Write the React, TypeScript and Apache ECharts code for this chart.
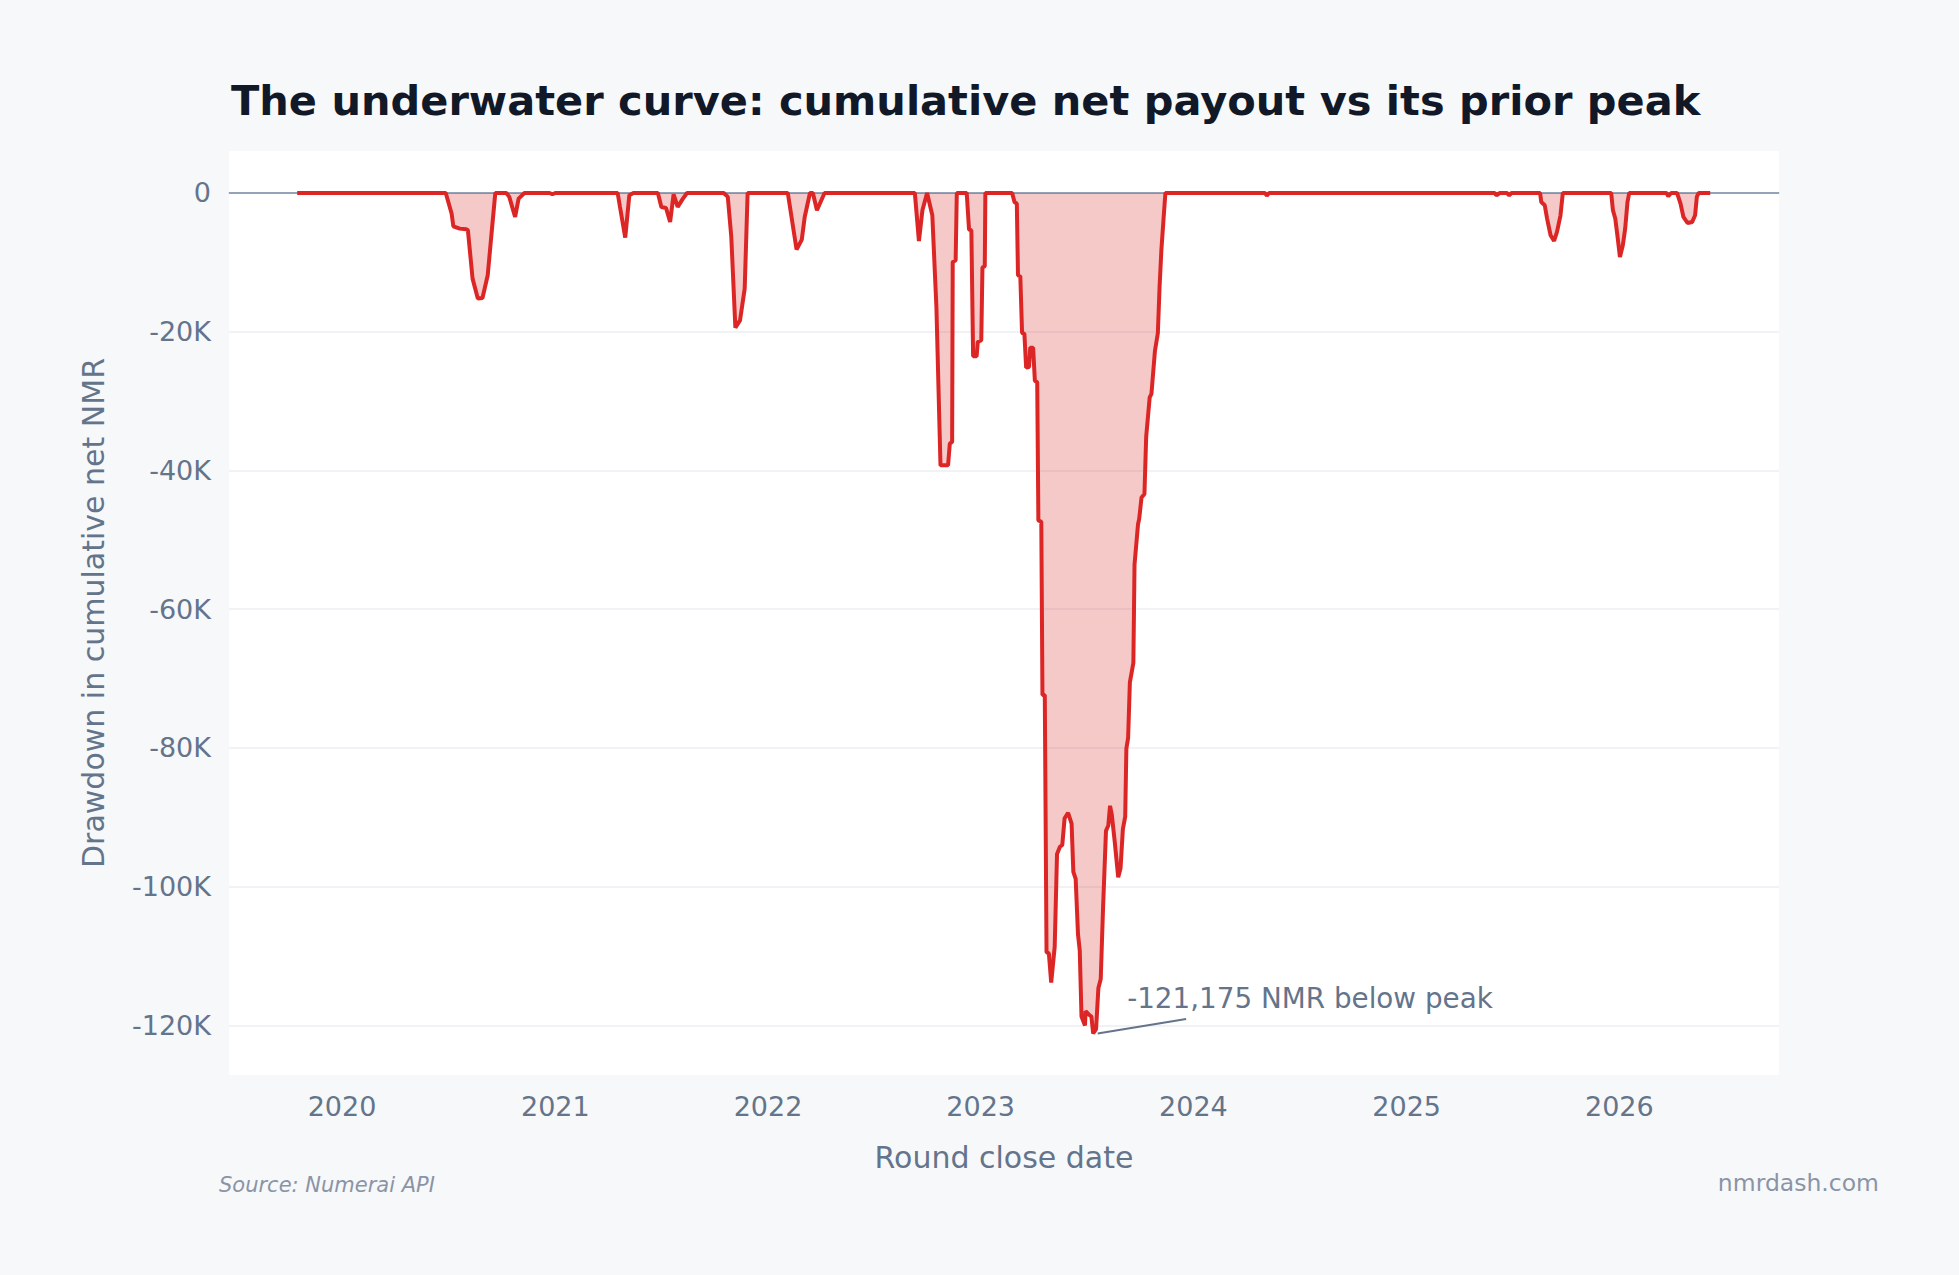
import React, { useEffect, useRef } from "react";
import * as echarts from "echarts";

// Round close dates (vertices of the underwater curve) and the drawdown of
// cumulative net payout below its running peak, in NMR, at each of them.
const roundDates = [
  "2019-10-16", "2020-06-27", "2020-07-07", "2020-07-10", "2020-07-21", "2020-08-01", "2020-08-04", "2020-08-12", "2020-08-21", "2020-08-29", "2020-09-07", "2020-09-13", "2020-09-20",
  "2020-10-09", "2020-10-14", "2020-10-24", "2020-10-30", "2020-11-09",
  "2020-12-22", "2020-12-27", "2021-01-01",
  "2021-04-18", "2021-04-22", "2021-05-01", "2021-05-08", "2021-05-15",
  "2021-06-26", "2021-07-02", "2021-07-10", "2021-07-17", "2021-07-23", "2021-07-30", "2021-08-08", "2021-08-15",
  "2021-10-17", "2021-10-24", "2021-10-30", "2021-11-06", "2021-11-14", "2021-11-22", "2021-11-27",
  "2022-02-04", "2022-02-19", "2022-02-28", "2022-03-05", "2022-03-14", "2022-03-19", "2022-03-26", "2022-04-08",
  "2022-09-10", "2022-09-17", "2022-09-23", "2022-10-01", "2022-10-10", "2022-10-17", "2022-10-24", "2022-11-06", "2022-11-09", "2022-11-13", "2022-11-14", "2022-11-19", "2022-11-21",
  "2022-12-08", "2022-12-12", "2022-12-16", "2022-12-19", "2022-12-25", "2022-12-27", "2023-01-02", "2023-01-04", "2023-01-08", "2023-01-09",
  "2023-02-24", "2023-02-28", "2023-03-04", "2023-03-06", "2023-03-10", "2023-03-13", "2023-03-17", "2023-03-20", "2023-03-25", "2023-03-27",
  "2023-04-01", "2023-04-04", "2023-04-08", "2023-04-10", "2023-04-15", "2023-04-17", "2023-04-21", "2023-04-24", "2023-04-28", "2023-05-02",
  "2023-05-08", "2023-05-12", "2023-05-17", "2023-05-21", "2023-05-25", "2023-05-31", "2023-06-06", "2023-06-09", "2023-06-13", "2023-06-17",
  "2023-06-20", "2023-06-23", "2023-06-29", "2023-06-30", "2023-07-06", "2023-07-10", "2023-07-13", "2023-07-18", "2023-07-22", "2023-07-26",
  "2023-07-30", "2023-08-04", "2023-08-08", "2023-08-11", "2023-08-14", "2023-08-19", "2023-08-25", "2023-08-29", "2023-09-02", "2023-09-06",
  "2023-09-08", "2023-09-11", "2023-09-14", "2023-09-20", "2023-09-22", "2023-09-28", "2023-09-30", "2023-10-04", "2023-10-09", "2023-10-12",
  "2023-10-18", "2023-10-21", "2023-10-27", "2023-11-01", "2023-11-04", "2023-11-07", "2023-11-11", "2023-11-14",
  "2024-05-03", "2024-05-06", "2024-05-10",
  "2025-06-01", "2025-06-04", "2025-06-10", "2025-06-22", "2025-06-26", "2025-06-30",
  "2025-08-18", "2025-08-20", "2025-08-26", "2025-08-30", "2025-09-05", "2025-09-11", "2025-09-16", "2025-09-22", "2025-09-26",
  "2025-12-18", "2025-12-21", "2025-12-25", "2025-12-29", "2026-01-02", "2026-01-07", "2026-01-11", "2026-01-15", "2026-01-18",
  "2026-03-23", "2026-03-26", "2026-03-31", "2026-04-10", "2026-04-16", "2026-04-21", "2026-04-28", "2026-05-06", "2026-05-11", "2026-05-14", "2026-05-17", "2026-06-06",
];

const drawdownNmr = [
  0, 0, -2970, -4800, -5140, -5230, -5380, -12350, -15230, -15140, -11870, -6340, 0,
  0, -570, -3460, -810, 0,
  0, -190, 0,
  0, -2020, -6430, -330, 0,
  0, -2020, -2160, -4180, -190, -2020, -810, 0,
  0, -570, -6340, -19410, -18360, -13790, 0,
  0, -8160, -6720, -3460, 0, 0, -2490, 0,
  0, -6920, -2490, 0, -3220, -16440, -39270, -39270, -36140, -35900, -9950, -9700, 0,
  0, -5280, -5380, -23550, -23550, -21490, -21240, -10760, -10570, 0,
  0, -1300, -1530, -11870, -12010, -20190, -20280, -25180, -25090, -22300,
  -22300, -27110, -27250, -47200, -47400, -72370, -72370, -109460, -109620, -113830,
  -108680, -95300, -94260, -94000, -90150, -89370, -90920, -97870, -98900, -106880,
  -109200, -118730, -120020, -117960, -118470, -118730, -121175, -120540, -114610, -113330,
  -103020, -91960, -91180, -88350, -89640, -93500, -98650, -97370, -91700, -89900,
  -80100, -78560, -70570, -67750, -53590, -47760, -46990, -43900, -43390, -35140,
  -29480, -28970, -22790, -20220, -13510, -8360, -3470, 0,
  0, -390, 0,
  0, -330, 0, 0, -330, 0,
  0, -1300, -1770, -3690, -6100, -6920, -5620, -3220, 0,
  0, -2490, -3690, -6340, -9230, -7540, -5140, -1300, 0,
  0, -480, 0, 0, -1530, -3460, -4330, -4180, -3220, -570, 0, 0,
];

const yearTicks = [2020, 2021, 2022, 2023, 2024, 2025, 2026];
const drawdownTicks = [0, -20000, -40000, -60000, -80000, -100000, -120000];

const X_START = "2019-06-21";
const X_END = "2026-10-02";
const Y_MIN = -127160;
const Y_MAX = 6050;

const FONT = "DejaVu Sans";
const SLATE = "#64748b";
const RED = "#dc2626";

const toTime = (d: string) => {
  const [y, m, day] = d.split("-").map(Number);
  return Date.UTC(y, m - 1, day);
};

export default function App() {
  const ref = useRef<HTMLDivElement>(null);

  useEffect(() => {
    document.body.style.margin = "0";
    const chart = echarts.init(ref.current!, null, { renderer: "svg" });

    const points = roundDates.map((d, i) => [toTime(d), drawdownNmr[i]]);
    let troughIdx = 0;
    drawdownNmr.forEach((v, i) => {
      if (v < drawdownNmr[troughIdx]) troughIdx = i;
    });
    const trough = drawdownNmr[troughIdx];
    const yearStarts = yearTicks.map((y) => Date.UTC(y, 0, 1));

    chart.setOption({
      animation: false,
      backgroundColor: "#f7f8fa",
      title: {
        text: "The underwater curve: cumulative net payout vs its prior peak",
        left: 226,
        top: 74,
        textStyle: { fontFamily: FONT, fontSize: 41.5, fontWeight: "bold", color: "#111827" },
      },
      grid: {
        left: 229,
        right: 180,
        top: 151,
        bottom: 200,
        show: true,
        backgroundColor: "#ffffff",
        borderWidth: 0,
      },
      xAxis: {
        // timestamps on a linear axis; labels sit on each 1 January
        type: "value",
        min: toTime(X_START),
        max: toTime(X_END),
        name: "Round close date",
        nameLocation: "middle",
        nameGap: 67,
        nameTextStyle: { fontFamily: FONT, fontSize: 30, color: SLATE },
        axisLine: { show: true, lineStyle: { color: "#e2e8f0", width: 2 } },
        axisTick: { show: false, customValues: yearStarts },
        splitLine: { show: false },
        axisLabel: {
          customValues: yearStarts,
          formatter: (v: number) => String(new Date(v).getUTCFullYear()),
          fontFamily: FONT,
          fontSize: 27,
          color: SLATE,
          margin: 18,
        },
      },
      yAxis: {
        type: "value",
        min: Y_MIN,
        max: Y_MAX,
        name: "Drawdown in cumulative net NMR",
        nameLocation: "middle",
        nameGap: 121,
        nameTextStyle: { fontFamily: FONT, fontSize: 30, color: SLATE },
        axisLine: { show: false },
        axisTick: { show: false, customValues: drawdownTicks },
        axisLabel: {
          customValues: drawdownTicks,
          formatter: (v: number) => (v === 0 ? "0" : `${v / 1000}K`),
          fontFamily: FONT,
          fontSize: 27,
          color: SLATE,
          margin: 18,
        },
        splitLine: { show: true, lineStyle: { color: "#eceef2", width: 1.5 } },
      },
      series: [
        {
          // zero reference line, kept beneath the curve
          type: "line",
          data: [],
          z: 2,
          markLine: {
            silent: true,
            z: 2,
            symbol: "none",
            label: { show: false },
            lineStyle: { color: "#94a3b8", width: 2, type: "solid" },
            data: [{ yAxis: 0 }],
          },
        },
        {
          type: "line",
          data: points,
          showSymbol: false,
          lineStyle: { color: RED, width: 4 },
          areaStyle: { color: "rgba(220, 38, 38, 0.25)", opacity: 1 },
          z: 3,
        },
      ],
    });

    // Callout anchored on the deepest point of the curve
    const [px, py] = chart.convertToPixel({ xAxisIndex: 0, yAxisIndex: 0 }, [
      toTime(roundDates[troughIdx]),
      trough,
    ]) as number[];

    chart.setOption({
      graphic: [
        {
          type: "line",
          shape: { x1: px + 4.5, y1: py, x2: px + 93, y2: py - 14.5 },
          style: { stroke: SLATE, lineWidth: 2 },
          z: 10,
        },
        {
          type: "text",
          x: px + 34,
          y: py - 35,
          style: {
            text: `${trough.toLocaleString("en-US")} NMR below peak`,
            fontFamily: FONT,
            fontSize: 27.8,
            fill: SLATE,
            verticalAlign: "middle",
          },
          z: 10,
        },
        {
          type: "text",
          x: 219,
          y: 1185,
          style: {
            text: "Source: Numerai API",
            fontFamily: FONT,
            fontSize: 21,
            fontStyle: "italic",
            fill: "#8a94a6",
            verticalAlign: "middle",
          },
        },
        {
          type: "text",
          x: 1879,
          y: 1183,
          style: {
            text: "nmrdash.com",
            fontFamily: FONT,
            fontSize: 23.5,
            fill: "#8a94a6",
            align: "right",
            verticalAlign: "middle",
          },
        },
      ],
    });

    return () => chart.dispose();
  }, []);

  return (
    <div
      ref={ref}
      style={{ position: "fixed", left: 0, top: 0, width: 1959, height: 1275 }}
    />
  );
}
